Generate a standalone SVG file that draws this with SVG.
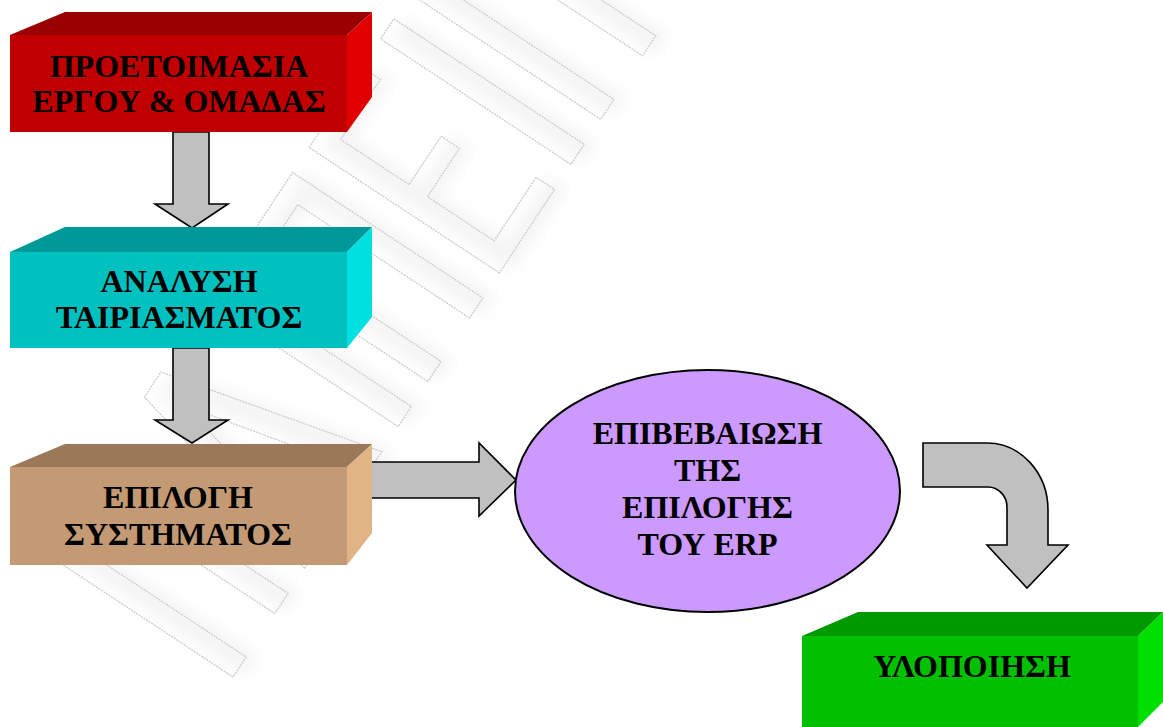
<svg xmlns="http://www.w3.org/2000/svg" width="1163" height="727" viewBox="0 0 1163 727">
  <defs>
    <filter id="soft" x="-20%" y="-20%" width="140%" height="140%">
      <feGaussianBlur stdDeviation="7"/>
    </filter>
    <!-- faint background mark: outlined strokes -->
    <g id="markShapes">
      <path d="M0,0 V-228 H100 V0 H76 V-206 H24 V0 Z"/>
      <path d="M130,0 L185,-228 L215,-228 L270,0 L244,0 L200,-190 L156,0 Z"/>
      <path d="M300,0 V-228 H324 V0 Z"/>
      <path d="M354,0 V-228 H454 V0 H430 V-206 H378 V0 Z"/>
      <path d="M484,0 V-228 H580 V-206 H508 V-124 H566 V-102 H508 V-22 H584 V0 Z"/>
      <path d="M614,0 V-228 H638 V0 Z"/>
      <path d="M668,0 V-228 H768 V0 H744 V-206 H692 V0 Z"/>
    </g>
  </defs>
  <style>
    .lbl { font-family: "Liberation Serif", "Times New Roman", serif; font-weight: bold; font-size: 32px; fill: #000; text-anchor: middle; }
    .arrow { fill: #C0C0C0; stroke: #000; stroke-width: 1.6; stroke-linejoin: miter; }
    .mark { fill: none; stroke: #CCCCCC; stroke-width: 1.3; stroke-dasharray: 2 1; }
    .markShade { fill: #E8E8E8; opacity: 0.45; }
  </style>

  <rect width="1163" height="727" fill="#FFFFFF"/>

  <!-- background mark -->
  <g id="backdrop" transform="translate(233,677) rotate(-56.6)">
    <use href="#markShapes" class="markShade" transform="translate(8,10)" filter="url(#soft)"/>
    <use href="#markShapes" class="mark"/>
  </g>

  <!-- connectors -->
  <g id="connectors">
    <polygon class="arrow" points="173,132 209,132 209,204 228,204 192,228 155,204 173,204"/>
    <polygon class="arrow" points="173,348 209,348 209,420 228,420 192,443 155,420 173,420"/>
    <polygon class="arrow" points="371,462 479,462 479,443 516,480 479,516 479,498 371,498"/>
    <path class="arrow" d="M923,443 L987,443 A61,67 0 0 1 1048,510 L1048,545 L1068,545 L1027,588 L987,545 L1007,545 L1007,507 A19,20 0 0 0 988,487 L923,487 Z"/>
  </g>

  <!-- step 1 -->
  <g id="node-preparation">
    <polygon points="10,35 65,12 372,12 347,35" fill="#990000"/>
    <polygon points="347,35 372,12 372,97 347,132" fill="#E00000"/>
    <rect x="10" y="35" width="337" height="97" fill="#C00000"/>
    <text class="lbl" x="179" y="77">ΠΡΟΕΤΟΙΜΑΣΙΑ</text>
    <text class="lbl" x="179" y="112">ΕΡΓΟΥ &amp; ΟΜΑΔΑΣ</text>
  </g>

  <!-- step 2 -->
  <g id="node-fit-analysis">
    <polygon points="10,252 65,227 372,227 347,252" fill="#009999"/>
    <polygon points="347,252 372,227 372,317 347,348" fill="#00E0E0"/>
    <rect x="10" y="252" width="337" height="96" fill="#00C0C0"/>
    <text class="lbl" x="179" y="292">ΑΝΑΛΥΣΗ</text>
    <text class="lbl" x="179" y="328">ΤΑΙΡΙΑΣΜΑΤΟΣ</text>
  </g>

  <!-- step 3 -->
  <g id="node-selection">
    <polygon points="10,467 65,444 372,444 347,467" fill="#9A7858"/>
    <polygon points="347,467 372,444 372,533 347,565" fill="#E0B485"/>
    <rect x="10" y="467" width="337" height="98" fill="#C39A73"/>
    <text class="lbl" x="178" y="508">ΕΠΙΛΟΓΗ</text>
    <text class="lbl" x="178" y="545">ΣΥΣΤΗΜΑΤΟΣ</text>
  </g>

  <!-- step 4 -->
  <g id="node-confirmation">
    <ellipse cx="707.5" cy="491" rx="192.5" ry="121" fill="#CC99FF" stroke="#000" stroke-width="2"/>
    <text class="lbl" x="707.5" y="444">ΕΠΙΒΕΒΑΙΩΣΗ</text>
    <text class="lbl" x="707.5" y="481">ΤΗΣ</text>
    <text class="lbl" x="707.5" y="518">ΕΠΙΛΟΓΗΣ</text>
    <text class="lbl" x="707.5" y="555">ΤΟΥ ERP</text>
  </g>

  <!-- step 5 -->
  <g id="node-implementation">
    <polygon points="802,636 858,612 1163,612 1138,636" fill="#009900"/>
    <polygon points="1138,636 1163,612 1163,702 1138,727" fill="#00E000"/>
    <rect x="802" y="636" width="336" height="91" fill="#00C000"/>
    <text class="lbl" x="972" y="677">ΥΛΟΠΟΙΗΣΗ</text>
  </g>
</svg>
